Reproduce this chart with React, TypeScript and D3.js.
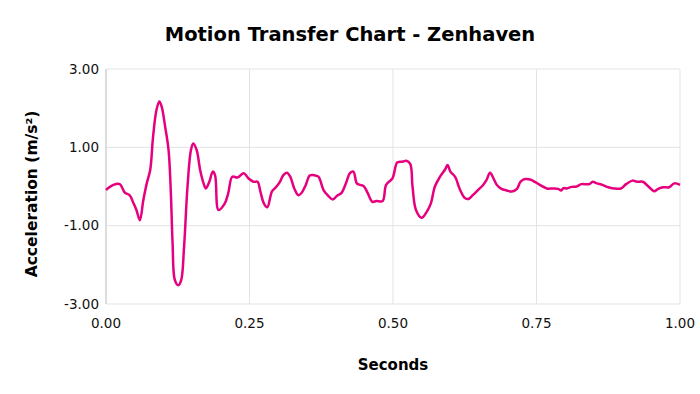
import * as d3 from "d3";

const times = [
    0, 0.0128, 0.024, 0.033, 0.041, 0.048, 0.053, 0.059, 0.065, 0.071, 0.077, 0.082, 0.088, 0.093, 0.097,
    0.103, 0.109, 0.113, 0.116, 0.120, 0.126, 0.131, 0.136, 0.142, 0.148, 0.152, 0.158, 0.164, 0.170, 0.174,
    0.180, 0.186, 0.190, 0.196, 0.207, 0.213, 0.220, 0.229, 0.240, 0.248, 0.257, 0.264, 0.269, 0.275, 0.281,
    0.289, 0.296, 0.303, 0.309, 0.315, 0.321, 0.328, 0.335, 0.341, 0.348, 0.355, 0.362, 0.370, 0.379, 0.386,
    0.395, 0.403, 0.410, 0.418, 0.425, 0.431, 0.437, 0.443, 0.449, 0.456, 0.464, 0.471, 0.482, 0.488, 0.499,
    0.507, 0.512, 0.518, 0.523, 0.530, 0.534, 0.540, 0.550, 0.559, 0.566, 0.573, 0.582, 0.591, 0.595, 0.600,
    0.608, 0.617, 0.625, 0.631, 0.639, 0.648, 0.657, 0.663, 0.669, 0.675, 0.681, 0.689, 0.698, 0.707, 0.716,
    0.722, 0.730, 0.739, 0.747, 0.756, 0.768, 0.779, 0.788, 0.793, 0.797, 0.803, 0.811, 0.820, 0.828, 0.842,
    0.848, 0.855, 0.865, 0.875, 0.885, 0.897, 0.906, 0.917, 0.925, 0.935, 0.945, 0.955, 0.962, 0.971, 0.981,
    0.990, 1.0
];
const accel = [
    -0.09, 0.04, 0.06, -0.16, -0.22, -0.43, -0.60, -0.86, -0.35, 0.08, 0.42, 1.27, 1.96, 2.17, 2.04,
    1.53, 0.93, -0.17, -1.45, -2.39, -2.52, -2.39, -1.54, 0, 0.93, 1.10, 0.93, 0.42, 0.08, -0.05,
    0.12, 0.38, 0.29, -0.60, -0.43, -0.17, 0.25, 0.23, 0.34, 0.21, 0.12, 0.12, -0.13, -0.43, -0.53,
    -0.13, -0.02, 0.12, 0.29, 0.35, 0.25, -0.05, -0.22, -0.16, 0.04, 0.28, 0.29, 0.25, -0.09, -0.22,
    -0.33, -0.23, -0.17, 0.08, 0.34, 0.38, 0.08, 0.04, 0.01, -0.17, -0.39, -0.37, -0.37, 0.04, 0.21,
    0.61, 0.63, 0.64, 0.66, 0.58, 0, -0.60, -0.80, -0.64, -0.43, 0, 0.25, 0.44, 0.55, 0.38,
    0.25, -0.09, -0.29, -0.32, -0.22, -0.09, 0.04, 0.17, 0.35, 0.21, 0.04, -0.06, -0.10, -0.13, -0.06,
    0.12, 0.19, 0.18, 0.12, 0.04, -0.05, -0.05, -0.06, -0.10, -0.04, -0.05, -0.01, 0, 0.06, 0.06,
    0.12, 0.08, 0.04, -0.02, -0.05, -0.05, 0.06, 0.15, 0.12, 0.12, 0, -0.12, -0.06, -0.02, -0.02,
    0.08, 0.04
];
const xTicks = [0, 0.25, 0.5, 0.75, 1];
const yTicks = [-3, -1, 1, 3];

const width = 700;
const height = 394;
const margin = {top: 69, right: 20, bottom: 90, left: 106};
const font = "Tahoma, 'DejaVu Sans', Verdana, sans-serif";

// plain hyphen for negatives, like the original
const fmt = d3.formatLocale({decimal: ".", thousands: ",", grouping: [3], currency: ["", ""], minus: "-"}).format(".2f");

export default function App() {
    const x = d3.scaleLinear([0, 1], [margin.left, width - margin.right]);
    const y = d3.scaleLinear([-3, 3], [height - margin.bottom, margin.top]);

    const points: [number, number][] = times.map((t, i) => [t, accel[i]]);
    const line = d3.line<[number, number]>()
        .x(d => x(d[0]))
        .y(d => y(d[1]))
        .curve(d3.curveCatmullRom.alpha(0.5));

    return <div style={{position: "absolute", left: 0, top: 0}}>
        <svg width={width} height={height} viewBox={`0 0 ${width} ${height}`} style={{display: "block", background: "#fff"}}>
            {yTicks.map(v => <line key={"gy" + v} x1={x(0)} x2={x(1)} y1={y(v)} y2={y(v)} stroke="#e3e3e3" strokeWidth={1}/>)}
            {xTicks.map(v => <line key={"gx" + v} x1={x(v)} x2={x(v)} y1={y(3)} y2={y(-3)} stroke="#e3e3e3" strokeWidth={1}/>)}
            <line x1={x(0)} x2={x(0)} y1={y(3)} y2={y(-3)} stroke="#c8c8c8"/>

            {yTicks.map(v => <text key={"ty" + v} x={x(0) - 7} y={y(v)} dy="0.35em" textAnchor="end"
                                   fontFamily={font} fontSize={13.5} fill="#111">{fmt(v)}</text>)}
            {xTicks.map(v => <text key={"tx" + v} x={x(v)} y={y(-3) + 19} dy="0.35em" textAnchor="middle"
                                   fontFamily={font} fontSize={13.5} fill="#111">{fmt(v)}</text>)}

            <path d={line(points) ?? ""} fill="none" stroke="#e6007e" strokeWidth={2.5} strokeLinejoin="round"/>

            <text x={350} y={34} dy="0.35em" textAnchor="middle" fontFamily={font} fontSize={19.5} fontWeight="bold"
                  fill="#000">Motion Transfer Chart - Zenhaven</text>
            <text x={393} y={365} dy="0.35em" textAnchor="middle" fontFamily={font} fontSize={15} fontWeight="bold"
                  fill="#000">Seconds</text>
            <text transform={`translate(32,194) rotate(-90)`} dy="0.35em" textAnchor="middle" fontFamily={font}
                  fontSize={15.5} fontWeight="bold" fill="#000">Acceleration (m/s²)</text>
        </svg>
    </div>;
}
